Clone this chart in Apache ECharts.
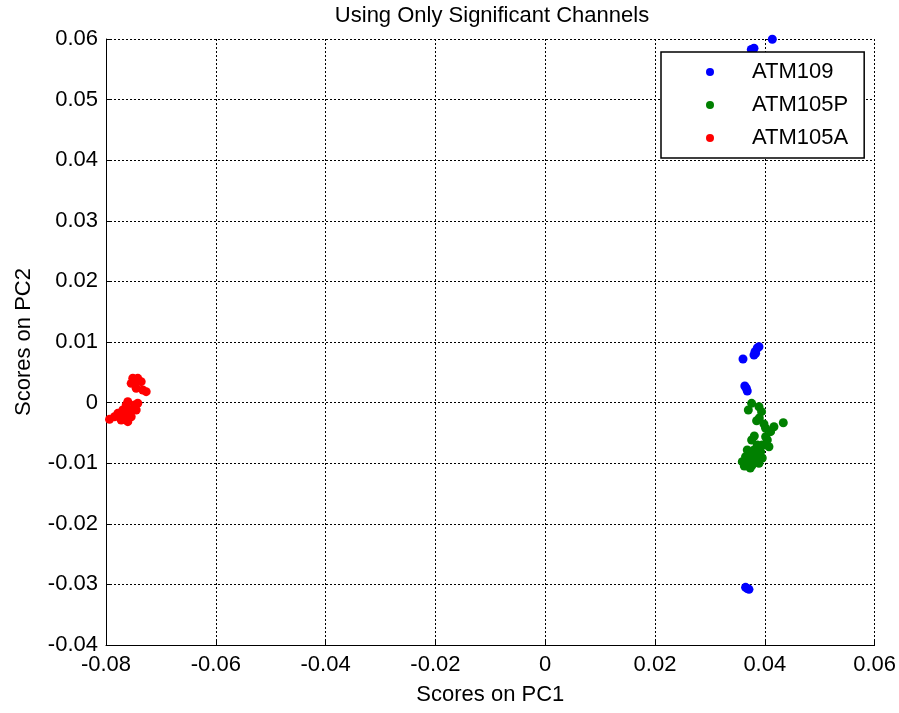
<!DOCTYPE html>
<html>
<head>
<meta charset="utf-8">
<script src="https://cdn.jsdelivr.net/npm/echarts@6/dist/echarts.min.js"></script>
<style>
html,body{margin:0;padding:0;background:#fff;}
#chart{width:899px;height:713px;}
</style>
</head>
<body>
<div id="chart"></div>
<script>
var titleText = 'Using Only Significant Channels';
var xAxisName = 'Scores on PC1';
var yAxisName = 'Scores on PC2';
var seriesNames = ['ATM109', 'ATM105P', 'ATM105A'];
var seriesColors = ['#0000ff', '#008000', '#ff0000'];
var xTickLabels = ['-0.08', '-0.06', '-0.04', '-0.02', '0', '0.02', '0.04', '0.06'];
var yTickLabels = ['-0.04', '-0.03', '-0.02', '-0.01', '0', '0.01', '0.02', '0.03', '0.04', '0.05', '0.06'];

var atm109 = [
  [0.04137, 0.05995], [0.03803, 0.05847], [0.03754, 0.05827],
  [0.03863, 0.00901], [0.03894, 0.00922], [0.03822, 0.00840], [0.03803, 0.00785], [0.03833, 0.00813],
  [0.03603, 0.00719],
  [0.03663, 0.00236], [0.03636, 0.00274], [0.03681, 0.00191],
  [0.03650, -0.03048], [0.03712, -0.03081], [0.03681, -0.03068]
];
var atm105p = [
  [0.03760, -0.00012], [0.03700, -0.00122], [0.03894, -0.00068], [0.03942, -0.00150],
  [0.03851, -0.00299], [0.03900, -0.00254], [0.03985, -0.00353], [0.04015, -0.00424], [0.04167, -0.00398],
  [0.04337, -0.00332], [0.04106, -0.00480], [0.04015, -0.00563], [0.03809, -0.00551], [0.03760, -0.00617],
  [0.04046, -0.00617], [0.03863, -0.00700], [0.03954, -0.00700], [0.04076, -0.00728], [0.03803, -0.00782],
  [0.03681, -0.00782], [0.03924, -0.00810], [0.03900, -0.00881], [0.03954, -0.00914], [0.03742, -0.00865],
  [0.03650, -0.00893], [0.03833, -0.00893], [0.03590, -0.00975], [0.03712, -0.00975], [0.03833, -0.00975],
  [0.03681, -0.01046], [0.03627, -0.01046], [0.03736, -0.01079], [0.03772, -0.01030], [0.03894, -0.01002]
];
var atm105a = [
  [-0.07512, 0.00401], [-0.07421, 0.00400], [-0.07359, 0.00345], [-0.07541, 0.00318],
  [-0.07481, 0.00340], [-0.07450, 0.00236], [-0.07330, 0.00208], [-0.07268, 0.00180],
  [-0.07603, 0.00015], [-0.07421, -0.00011], [-0.07632, -0.00040], [-0.07481, -0.00040],
  [-0.07694, -0.00122], [-0.07572, -0.00122], [-0.07450, -0.00122], [-0.07785, -0.00177],
  [-0.07663, -0.00205], [-0.07541, -0.00233], [-0.07845, -0.00233], [-0.07936, -0.00276],
  [-0.07603, -0.00315], [-0.07723, -0.00287]
];
var seriesData = [atm109, atm105p, atm105a];

var FONT = '"Liberation Sans", Arial, Helvetica, sans-serif';
var chart = echarts.init(document.getElementById('chart'), null, {renderer: 'canvas'});

var series = seriesNames.map(function (name, i) {
  return {
    name: name,
    type: 'scatter',
    data: seriesData[i],
    symbol: 'circle',
    symbolSize: 9,
    itemStyle: {color: seriesColors[i], opacity: 1},
    clip: false,
    z: 2
  };
});

chart.setOption({
  backgroundColor: '#ffffff',
  animation: false,
  textStyle: {fontFamily: FONT},
  title: {
    text: titleText,
    left: 487,
    top: 0,
    textAlign: 'center',
    textStyle: {fontFamily: FONT, fontSize: 22, fontWeight: 'normal', color: '#000'}
  },
  legend: {
    orient: 'vertical',
    left: 661,
    top: 52,
    icon: 'circle',
    itemWidth: 74,
    itemHeight: 8,
    itemGap: 11,
    padding: [9, 16, 9, 45],
    backgroundColor: '#ffffff',
    borderColor: '#000000',
    borderWidth: 1.5,
    borderRadius: 0,
    data: seriesNames,
    textStyle: {fontFamily: FONT, fontSize: 22, color: '#000', lineHeight: 22},
    z: 10
  },
  grid: {
    left: 106,
    top: 39,
    width: 769,
    height: 606,
    containLabel: false
  },
  xAxis: {
    type: 'value',
    min: -0.08,
    max: 0.06,
    interval: 0.02,
    name: xAxisName,
    nameLocation: 'middle',
    nameGap: 39,
    nameTextStyle: {fontFamily: FONT, fontSize: 22, color: '#000'},
    axisLine: {show: true, onZero: false, lineStyle: {color: '#000', width: 1}},
    axisTick: {show: true, inside: true, length: 6, lineStyle: {color: '#000', width: 1}},
    axisLabel: {
      margin: 9,
      fontFamily: FONT, fontSize: 22, color: '#000',
      formatter: function (v, idx) { return xTickLabels[idx] !== undefined ? xTickLabels[idx] : String(v); }
    },
    splitLine: {show: true, lineStyle: {color: '#000', width: 1, type: [2, 2]}}
  },
  yAxis: {
    type: 'value',
    min: -0.04,
    max: 0.06,
    interval: 0.01,
    name: yAxisName,
    nameLocation: 'middle',
    nameGap: 71,
    nameRotate: 90,
    nameTextStyle: {fontFamily: FONT, fontSize: 22, color: '#000'},
    axisLine: {show: true, onZero: false, lineStyle: {color: '#000', width: 1}},
    axisTick: {show: true, inside: true, length: 6, lineStyle: {color: '#000', width: 1}},
    axisLabel: {
      margin: 8,
      fontFamily: FONT, fontSize: 22, color: '#000',
      formatter: function (v, idx) { return yTickLabels[idx] !== undefined ? yTickLabels[idx] : String(v); }
    },
    splitLine: {show: true, lineStyle: {color: '#000', width: 1, type: [2, 2]}}
  },
  series: series
});
</script>
</body>
</html>
